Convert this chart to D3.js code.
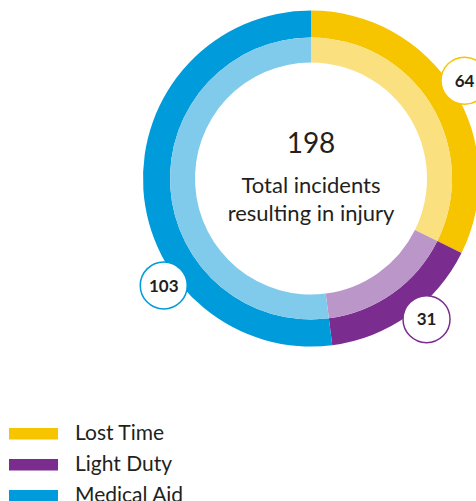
<!DOCTYPE html>
<html>
<head>
<meta charset="utf-8">
<script src="https://cdn.jsdelivr.net/npm/d3@7"></script>
<style>
  html, body { margin: 0; padding: 0; background: #fff; }
  svg { display: block; font-family: Lato, "Open Sans", sans-serif; }
  .center-total { font-size: 28px; fill: #231f20; }
  .center-caption { font-size: 22px; fill: #231f20; }
  .badge text { font-size: 17px; font-weight: 700; fill: #231f20; }
  .legend text { font-size: 21px; fill: #231f20; }
</style>
</head>
<body>
<svg id="chart" width="476" height="501"></svg>
<script>
// data
const categories = ["Lost Time", "Light Duty", "Medical Aid"];
const values = [64, 31, 103];
const total = 198;
const caption = ["Total incidents", "resulting in injury"];

// look
const colors = ["#f7c400", "#7a2d8f", "#009bdb"];
const lightColors = ["#fae07f", "#bb96c8", "#80cbec"];
const badgeAngles = [57.5, 140.6, 234]; // degrees, clockwise from top

const svg = d3.select("#chart");
const cx = 311, cy = 178.5;
const rOuter = 168, rMid = 141, rInner = 116;

const pie = d3.pie().sort(null).value(d => d)(values);

const outerArc = d3.arc().innerRadius(rMid).outerRadius(rOuter);
const innerArc = d3.arc().innerRadius(rInner).outerRadius(rMid);

const donut = svg.append("g").attr("transform", `translate(${cx},${cy})`);

donut.selectAll("path.outer")
  .data(pie)
  .join("path")
  .attr("class", "outer")
  .attr("d", outerArc)
  .attr("fill", (d, i) => colors[i]);

donut.selectAll("path.inner")
  .data(pie)
  .join("path")
  .attr("class", "inner")
  .attr("d", innerArc)
  .attr("fill", (d, i) => lightColors[i]);

// center text
donut.append("text")
  .attr("class", "center-total")
  .attr("text-anchor", "middle")
  .attr("y", -25.5)
  .text(total);

donut.selectAll("text.center-caption")
  .data(caption)
  .join("text")
  .attr("class", "center-caption")
  .attr("text-anchor", "middle")
  .attr("y", (d, i) => 14.5 + i * 27.5)
  .text(d => d);

// value badges
const badgeR = 182;
const badges = donut.selectAll("g.badge")
  .data(pie)
  .join("g")
  .attr("class", "badge")
  .attr("transform", (d, i) => {
    const a = badgeAngles[i] * Math.PI / 180;
    return `translate(${badgeR * Math.sin(a)},${-badgeR * Math.cos(a)})`;
  });

badges.append("circle")
  .attr("r", 23.5)
  .attr("fill", "#fff")
  .attr("stroke", (d, i) => colors[i])
  .attr("stroke-width", 1.5);

badges.append("text")
  .attr("text-anchor", "middle")
  .attr("dy", "0.36em")
  .text(d => d.data);

// legend
const legend = svg.append("g").attr("class", "legend").attr("transform", "translate(9,428)");
const rows = legend.selectAll("g")
  .data(categories)
  .join("g")
  .attr("transform", (d, i) => `translate(0,${i * 31})`);

rows.append("rect")
  .attr("width", 49)
  .attr("height", 11.5)
  .attr("fill", (d, i) => colors[i]);

rows.append("text")
  .attr("x", 66)
  .attr("y", 11.5)
  .text(d => d);
</script>
</body>
</html>
